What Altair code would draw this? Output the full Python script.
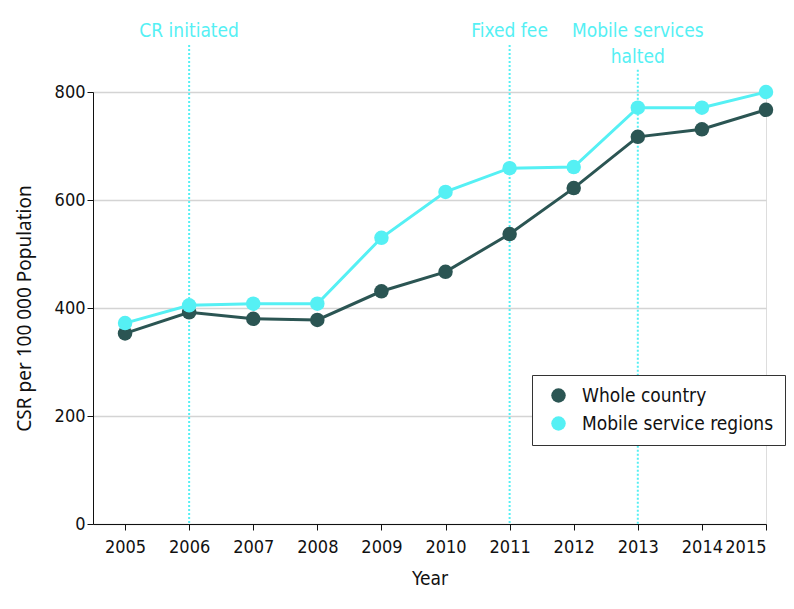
import altair as alt
import pandas as pd

years = list(range(2005, 2016))
whole_country = [353, 392, 380, 378, 431, 467, 537, 622, 717, 731, 767]
mobile_regions = [372, 405, 408, 408, 530, 615, 659, 661, 771, 771, 800]
series_names = ["Whole country", "Mobile service regions"]
series_colors = ["#2b5553", "#55f0f4"]

event_years = [2006, 2011, 2013]
event_top = [887, 887, 841]

label_years = [2006, 2011, 2013, 2013]
label_texts = ["CR initiated", "Fixed fee", "Mobile services", "halted"]
label_y = [913, 913, 913, 865]

rows = []
for y, w, m in zip(years, whole_country, mobile_regions):
    rows.append({"Year": y, "Value": w, "Series": series_names[0]})
    rows.append({"Year": y, "Value": m, "Series": series_names[1]})
df = pd.DataFrame(rows)

events = pd.DataFrame({"Year": event_years, "Top": event_top, "Bottom": [0] * 3})
labels = pd.DataFrame({"Year": label_years, "Text": label_texts, "Y": label_y})

FONT = "DejaVu Sans Condensed"
CYAN = "#55f0f4"

xscale = alt.Scale(domain=[2004.5, 2015], nice=False, zero=False)
yscale = alt.Scale(domain=[0, 800], nice=False)

color = alt.Color(
    "Series:N",
    scale=alt.Scale(domain=series_names, range=series_colors),
    sort=series_names,
    legend=alt.Legend(
        title=None,
        orient="none",
        legendX=439,
        legendY=283,
        labelFont=FONT,
        labelFontSize=19,
        labelColor="#111111",
        labelLimit=0,
        symbolType="circle",
        symbolSize=210,
        symbolStrokeWidth=0,
        strokeColor="#333333",
        padding=11,
        rowPadding=8,
        symbolOffset=6,
        labelOffset=14,
        fillColor="white",
    ),
)

base = alt.Chart(df)

rules = alt.Chart(events).mark_rule(
    color=CYAN, strokeDash=[2, 2], strokeWidth=2
).encode(
    x=alt.X("Year:Q", scale=xscale),
    y=alt.Y("Top:Q", scale=yscale),
    y2="Bottom:Q",
)

texts = alt.Chart(labels).mark_text(
    color=CYAN, font=FONT, fontSize=19, baseline="middle", align="center"
).encode(
    x=alt.X("Year:Q", scale=xscale),
    y=alt.Y("Y:Q", scale=yscale),
    text="Text:N",
)

lines = base.mark_line(strokeWidth=3).encode(
    x=alt.X(
        "Year:Q",
        scale=xscale,
        axis=alt.Axis(
            title="Year",
            values=years,
            format="d",
            grid=False,
            domainColor="#111111",
            tickColor="#111111",
            labelFont=FONT,
            labelFontSize=18,
            labelColor="#111111",
            titleFont=FONT,
            titleFontSize=19,
            titleFontWeight="normal",
            titleColor="#111111",
            titlePadding=13,
            labelPadding=8,
            tickSize=6,
        ),
    ),
    y=alt.Y(
        "Value:Q",
        scale=yscale,
        axis=alt.Axis(
            title="CSR per 100 000 Population",
            values=[0, 200, 400, 600, 800],
            grid=True,
            gridColor="#d4d4d4",
            gridWidth=1.5,
            domainColor="#111111",
            tickColor="#111111",
            labelFont=FONT,
            labelFontSize=18,
            labelColor="#111111",
            titleFont="Noto Sans",
            titleFontSize=19,
            titleFontWeight="normal",
            titleColor="#111111",
            titlePadding=20,
            tickSize=6,
        ),
    ),
    color=color,
    order="Year:Q",
)

points = base.mark_circle(size=210, opacity=1).encode(
    x=alt.X("Year:Q", scale=xscale),
    y=alt.Y("Value:Q", scale=yscale),
    color=alt.Color("Series:N", scale=alt.Scale(domain=series_names, range=series_colors), legend=None),
)

chart = alt.layer(rules, lines, points, texts).properties(
    width=673,
    height=432,
    autosize=alt.AutoSizeParams(type="none"),
    padding={"left": 85, "top": 84, "right": 20, "bottom": 70},
).configure_view(stroke=None).configure(background="white")

chart.save("out.html", embed_options={"renderer": "svg", "actions": False})
